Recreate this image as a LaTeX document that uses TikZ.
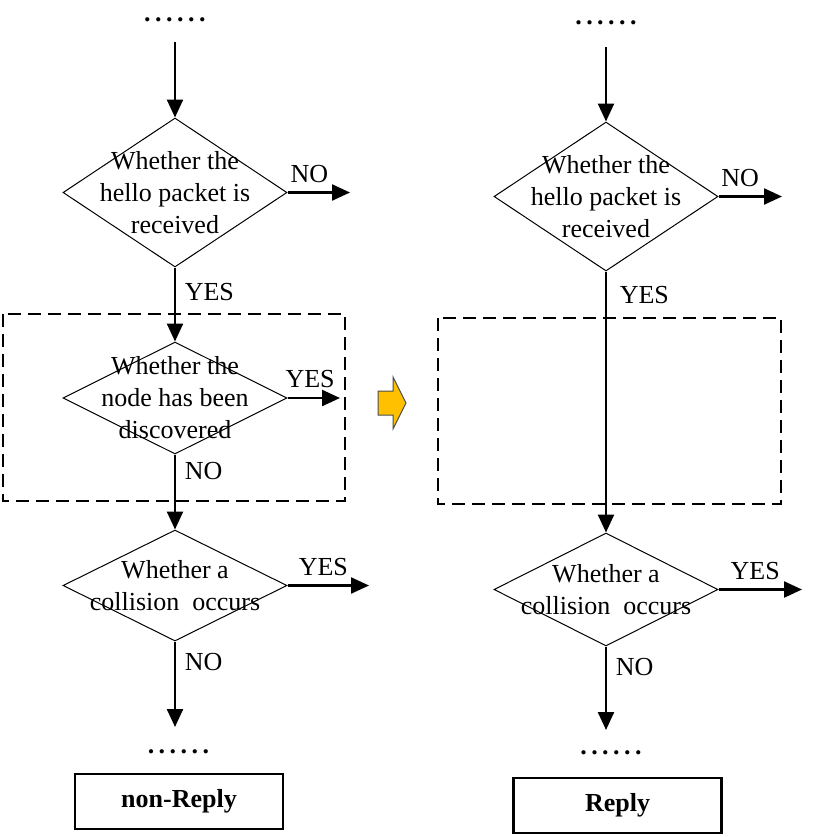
\documentclass[tikz,border=0pt]{standalone}
\usepackage{fontspec}
\setmainfont{Liberation Serif}
\usetikzlibrary{arrows.meta,shapes.geometric}
\definecolor{stepfill}{RGB}{255,192,0}
\newcommand\dotrow{\textbf{.\kern2.25pt.\kern2.25pt.\kern2.25pt.\kern2.25pt.\kern2.25pt.}}

\begin{document}
\begin{tikzpicture}[x=.5pt,y=-.5pt,font=\fontsize{13}{16}\selectfont,
  decision/.style={diamond,draw,line width=.5pt,inner sep=0pt,minimum width=112pt,minimum height=#1},
  qtext/.style={align=center,inner sep=0pt},
  result/.style={draw,line width=1.1pt,minimum width=104pt,minimum height=27.5pt,font=\fontsize{13}{16}\selectfont\bfseries},
  arr/.style={-{Triangle[length=9pt,width=8pt]},line width=1.2pt},
  lbl/.style={inner sep=4.3pt},
  frame/.style={dash pattern=on 6.5pt off 3.5pt,line width=1pt},
  dots/.style={inner sep=0pt}]
\useasboundingbox (0,0) rectangle (830,837);
% left: before the change
\node[dots] (topL) at (175,20) {\dotrow};
\coordinate (inL) at (175,42);
\node[decision=74.5pt,label={[qtext]center:{Whether the\\hello packet is\\received}}] (qL1) at (175,192.5) {};
\node[decision=56pt,label={[qtext]center:{Whether the\\node has been\\discovered}}] (qL2) at (175,398) {};
\node[decision=55.5pt,label={[qtext]center:{Whether a\\collision\ \ occurs}}] (qL3) at (175,585.5) {};
\coordinate (noL1) at (350,192.5);
\coordinate (yesL2) at (340,398);
\coordinate (yesL3) at (369,585.5);
\coordinate (outL) at (175,727);
\node[dots] (botL) at (178.5,752) {\dotrow};
\node[result] (resL) at (179,801.5) {non-Reply};
\draw[arr] (inL)--(qL1.north);
\draw[arr] (qL1.east)--(noL1) node[lbl,above,pos=.35]{NO};
\draw[arr] (qL1.south)--(qL2.north) node[lbl,right,pos=.33]{YES};
\draw[arr] (qL2.east)--(yesL2) node[lbl,above,pos=.43]{YES};
\draw[arr] (qL2.south)--(qL3.north) node[lbl,right,pos=.22]{NO};
\draw[arr] (qL3.east)--(yesL3) node[lbl,above,pos=.44]{YES};
\draw[arr] (qL3.south)--(outL) node[lbl,right,pos=.24]{NO};
\draw[frame] (3,314) rectangle (345,501);
% change marker
\draw[fill=stepfill,draw=black!70,line width=.5pt] (378,391)--(393,391)--(393,377)--(406,403)--(393,429)--(393,415)--(378,415)--cycle;
% right: after the change
\node[dots] (topR) at (606,23) {\dotrow};
\coordinate (inR) at (606,47);
\node[decision=74.5pt,label={[qtext]center:{Whether the\\hello packet is\\received}}] (qR1) at (606,196.5) {};
\node[decision=56.5pt,label={[qtext]center:{Whether a\\collision\ \ occurs}}] (qR3) at (606,589.5) {};
\coordinate (noR1) at (782,196.5);
\coordinate (yesR3) at (802,589.5);
\coordinate (outR) at (606,730);
\node[dots] (botR) at (611,753) {\dotrow};
\node[result] (resR) at (617.5,805.5) {Reply};
\draw[arr] (inR)--(qR1.north);
\draw[arr] (qR1.east)--(noR1) node[lbl,above,pos=.34]{NO};
\draw[arr] (qR1.south)--(qR3.north) node[lbl,right,pos=.09,xshift=2pt]{YES};
\draw[arr] (qR3.east)--(yesR3) node[lbl,above,pos=.44]{YES};
\draw[arr] (qR3.south)--(outR) node[lbl,right,pos=.24]{NO};
\draw[frame] (438,318) rectangle (781,504);
\end{tikzpicture}
\end{document}
